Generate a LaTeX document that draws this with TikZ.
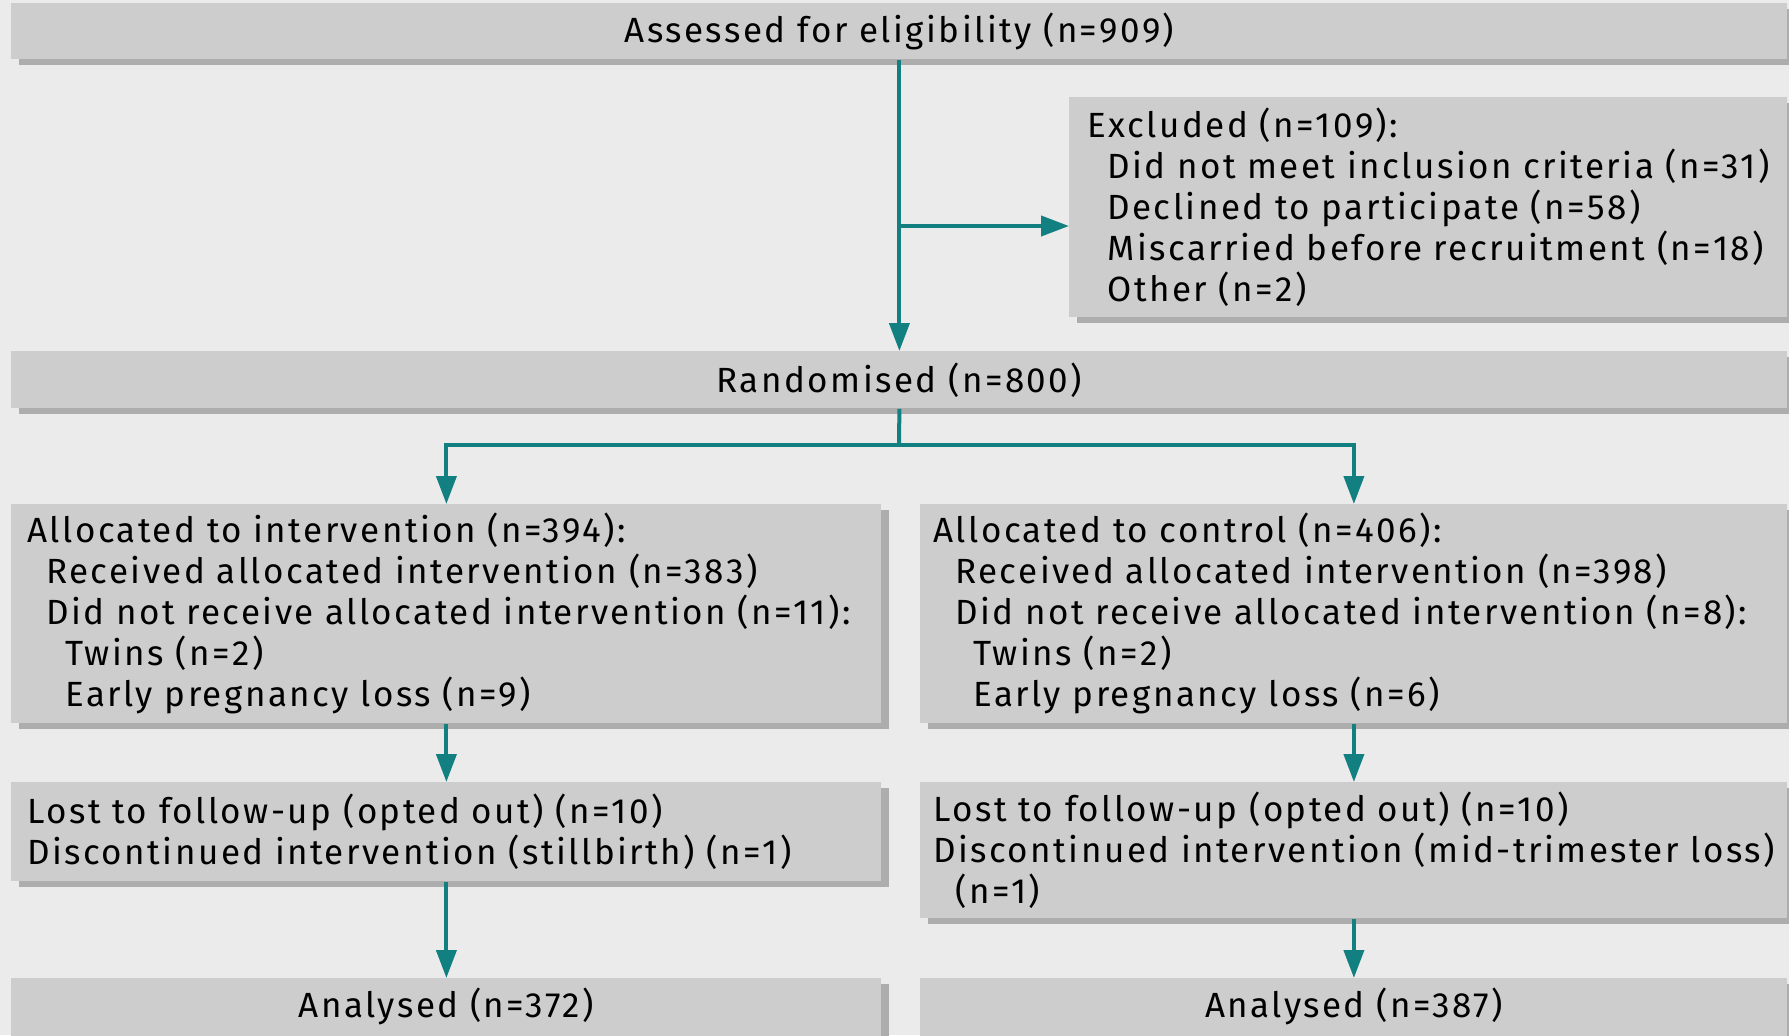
\documentclass[tikz,border=0pt]{standalone}
\usepackage{fontspec}
\setmainfont[LetterSpace=7]{Fira Sans}
\usetikzlibrary{arrows.meta,shadows,calc}
\definecolor{bgcol}{HTML}{EBEBEB}
\definecolor{boxfill}{HTML}{CDCDCD}
\definecolor{shd}{HTML}{ADADAD}
\definecolor{arrowteal}{HTML}{127F80}
\newcommand{\boxfont}{\fontsize{17.5pt}{20.5pt}\selectfont}
\newcommand{\boxline}[1]{\mbox{#1}}
\begin{document}
\begin{tikzpicture}[x=0.5pt,y=-0.5pt,
  box/.style={fill=boxfill, draw=none, inner sep=0pt, anchor=north west,
    drop shadow={fill=shd, opacity=1, shadow xshift=4pt, shadow yshift=-3pt},
    font=\boxfont},
  listbox/.style={box, align=left},
  conn/.style={draw=arrowteal, line width=2pt},
  arr/.style={conn, -{Triangle[length=14pt,width=10pt]}}]
\path[use as bounding box, fill=bgcol] (0,0) rectangle (1789,1035);
\clip (0,0) rectangle (1789,1035);

\node[box, minimum width=888pt, minimum height=28pt] (top) at (11,3)
  {Assessed for eligibility (n=909)};
\node[listbox, inner xsep=9pt, text width=341pt, minimum height=110pt] (excl) at (1069,97)
  {\boxline{Excluded (n=109):}\\
   \hspace*{10pt}\boxline{Did not meet inclusion criteria (n=31)}\\
   \hspace*{10pt}\boxline{Declined to participate (n=58)}\\
   \hspace*{10pt}\boxline{Miscarried before recruitment (n=18)}\\
   \hspace*{10pt}\boxline{Other (n=2)}};
\node[box, minimum width=888pt, minimum height=28.5pt] (rand) at (11,351)
  {Randomised (n=800)};

\node[listbox, inner xsep=8pt, text width=419pt, minimum height=109.5pt] (allocL) at (11,504)
  {\boxline{Allocated to intervention (n=394):}\\
   \hspace*{9.5pt}\boxline{Received allocated intervention (n=383)}\\
   \hspace*{9.5pt}\boxline{Did not receive allocated intervention (n=11):}\\
   \hspace*{19pt}\boxline{Twins (n=2)}\\
   \hspace*{19pt}\boxline{Early pregnancy loss (n=9)}};
\node[listbox, inner xsep=6.5pt, text width=420.5pt, minimum height=109.5pt] (allocR) at (920,504)
  {\boxline{Allocated to control (n=406):}\\
   \hspace*{11pt}\boxline{Received allocated intervention (n=398)}\\
   \hspace*{11pt}\boxline{Did not receive allocated intervention (n=8):}\\
   \hspace*{20pt}\boxline{Twins (n=2)}\\
   \hspace*{20pt}\boxline{Early pregnancy loss (n=6)}};

\node[listbox, inner xsep=8pt, text width=419pt, minimum height=49.5pt] (lostL) at (11,782)
  {\boxline{Lost to follow-up (opted out) (n=10)}\\
   \boxline{Discontinued intervention (stillbirth) (n=1)}};
\node[listbox, inner xsep=6.5pt, text width=420.5pt, minimum height=68pt] (lostR) at (920,782)
  {\boxline{Lost to follow-up (opted out) (n=10)}\\
   \boxline{Discontinued intervention (mid-trimester loss)}\\
   \hspace*{11pt}\boxline{(n=1)}};

\node[box, minimum width=435pt, text height=19.5pt, text depth=14pt] (anaL) at (11,978)
  {Analysed (n=372)};
\node[box, minimum width=433.5pt, text height=19.5pt, text depth=14pt] (anaR) at (920,978)
  {Analysed (n=387)};

\coordinate (branch) at (899,226);
\coordinate (split) at (899,445);

\draw[arr] (top.south) -- (rand.north);
\draw[arr] (branch) -- (branch -| excl.west);
\draw[conn] (rand.south) -- (split);
\draw[arr] (split) -| (allocL.north);
\draw[arr] (split) -| (allocR.north);
\draw[arr] (allocL.south) -- (lostL.north);
\draw[arr] (allocR.south) -- (lostR.north);
\draw[arr] (lostL.south) -- (anaL.north);
\draw[arr] (lostR.south) -- (anaR.north);
\end{tikzpicture}
\end{document}
